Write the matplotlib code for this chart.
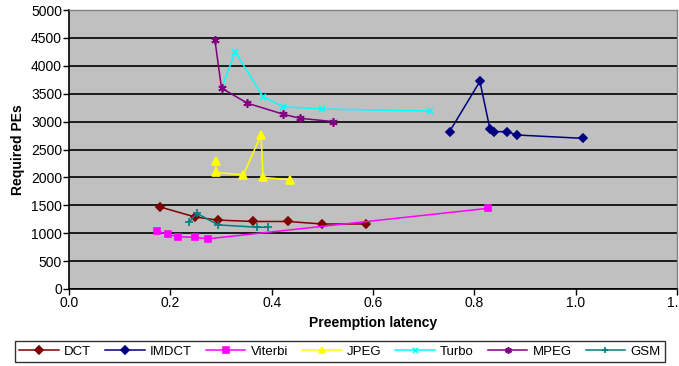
import matplotlib
matplotlib.use("Agg")
import matplotlib.pyplot as plt

plt.rcParams['font.family'] = ['Liberation Sans', 'DejaVu Sans']

# Preemption latency (x) vs required processing elements (y) per benchmark
dct_x = [0.180, 0.249, 0.294, 0.363, 0.432, 0.499, 0.586]
dct_y = [1470, 1290, 1235, 1210, 1210, 1165, 1165]

imdct_x = [0.751, 0.811, 0.831, 0.839, 0.864, 0.884, 1.014]
imdct_y = [2820, 3720, 2860, 2820, 2820, 2760, 2700]

viterbi_x = [0.173, 0.195, 0.216, 0.249, 0.275, 0.827]
viterbi_y = [1040, 977, 937, 925, 900, 1446]

jpeg_x = [0.290, 0.290, 0.344, 0.379, 0.383, 0.437]
jpeg_y = [2290, 2090, 2045, 2760, 2000, 1955]

turbo_x = [0.301, 0.328, 0.383, 0.423, 0.500, 0.712]
turbo_y = [3600, 4250, 3445, 3265, 3225, 3190]

mpeg_x = [0.288, 0.301, 0.352, 0.422, 0.455, 0.522]
mpeg_y = [4460, 3600, 3330, 3135, 3060, 3000]

gsm_x = [0.237, 0.252, 0.295, 0.372, 0.393]
gsm_y = [1200, 1355, 1148, 1107, 1107]

series = [
    ("DCT", dct_x, dct_y, "#800000", "D", 4.5),
    ("IMDCT", imdct_x, imdct_y, "#000080", "D", 4.5),
    ("Viterbi", viterbi_x, viterbi_y, "#FF00FF", "s", 5),
    ("JPEG", jpeg_x, jpeg_y, "#FFFF00", "^", 5.5),
    ("Turbo", turbo_x, turbo_y, "#00FFFF", "x", 4.5),
    ("MPEG", mpeg_x, mpeg_y, "#800080", (6, 2, 0), 6),
    ("GSM", gsm_x, gsm_y, "#008080", "+", 6),
]

fig = plt.figure(figsize=(6.79, 3.66), dpi=100)
ax = fig.add_axes([69/679, 1 - 289/366, (677 - 69)/679, (289 - 10)/366])
ax.set_facecolor("#C0C0C0")

for name, xs, ys, col, mk, ms in series:
    ax.plot(xs, ys, color=col, lw=1.1, marker=mk, ms=ms,
            markerfacecolor=col, markeredgecolor=col, mew=1.2,
            label=name, zorder=3)

ax.set_xlim(0, 1.2)
ax.set_ylim(0, 5000)
ax.set_xticks([0.0, 0.2, 0.4, 0.6, 0.8, 1.0, 1.2])
ax.set_xticklabels(["0.0", "0.2", "0.4", "0.6", "0.8", "1.0", "1.2"])
ax.set_yticks(range(0, 5001, 500))
ax.yaxis.grid(True, color="black", lw=1.2, zorder=1)
ax.set_axisbelow(True)

ax.tick_params(axis="both", labelsize=10, length=4, width=1, colors="black",
               direction="out", pad=1)
for side in ("top", "right"):
    ax.spines[side].set_color("#808080")
    ax.spines[side].set_linewidth(1)
for side in ("left", "bottom"):
    ax.spines[side].set_color("black")
    ax.spines[side].set_linewidth(1.2)

ax.set_xlabel("Preemption latency", fontsize=10, fontweight="bold", labelpad=4)
ax.set_ylabel("Required PEs", fontsize=10, fontweight="bold", labelpad=4)

leg = fig.legend(loc="center", bbox_to_anchor=(340/679, 1 - 351.5/366), ncol=7,
                 fontsize=9.5, frameon=True, fancybox=False, edgecolor="black",
                 handlelength=3.0, columnspacing=1.05, handletextpad=0.4,
                 borderpad=0.3, markerscale=0.8)
leg.get_frame().set_linewidth(1)

fig.savefig("out.png", dpi=100)
